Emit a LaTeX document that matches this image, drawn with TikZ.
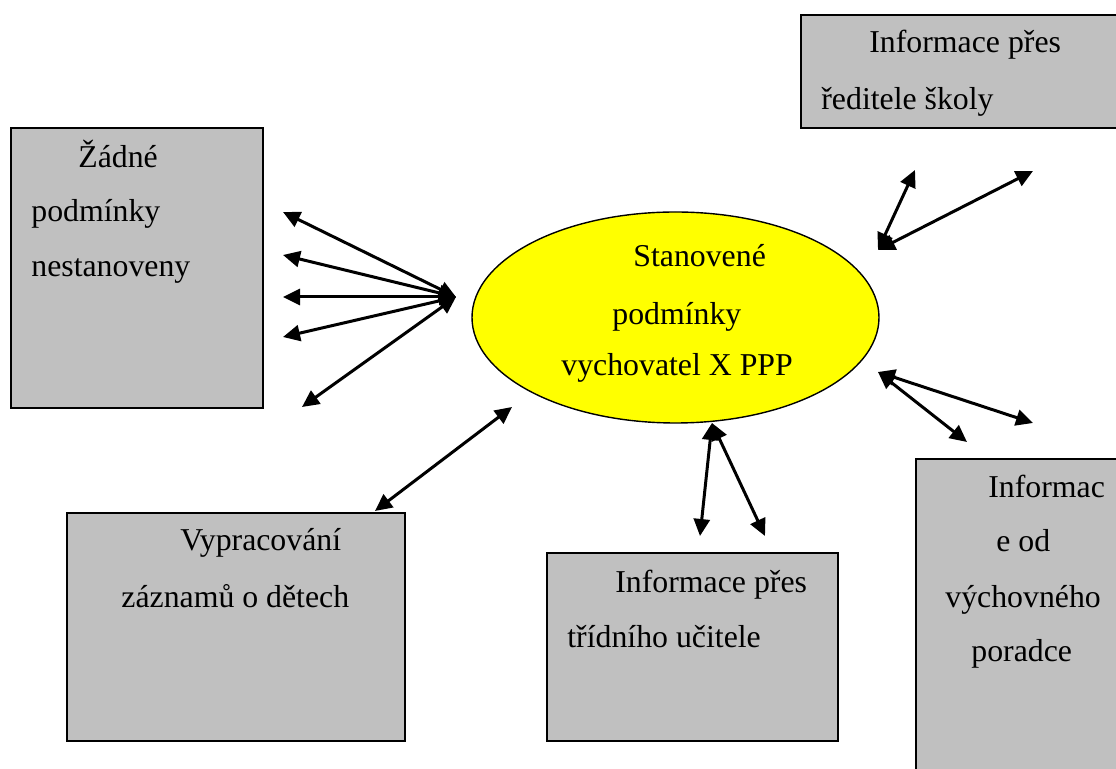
\documentclass[tikz,border=0pt]{standalone}
\usepackage{fontspec}
\setmainfont{Liberation Serif}
\usetikzlibrary{arrows.meta,shapes.geometric}

\begin{document}
\begin{tikzpicture}[x=0.5pt,y=-0.5pt,
  box/.style={draw=black,line width=1pt,fill={rgb,255:red,192;green,192;blue,192},
    rectangle,anchor=north west,inner sep=0pt},
  oval/.style={draw=black,line width=0.7pt,fill={rgb,255:red,255;green,255;blue,0},
    ellipse,inner sep=0pt,minimum width=203.5pt,minimum height=105.5pt},
  txt/.style={anchor=base west,inner sep=0pt,font=\fontsize{15.9}{19}\selectfont},
  >={Triangle[length=8.5pt,width=8pt]},
  link/.style={line width=1.5pt,<->}]

\useasboundingbox (0,0) rectangle (1116,769);
\clip (0,0) rectangle (1116,769);

% boxes (the two on the right run past the page edge)
\node[box,minimum width=126pt,minimum height=140pt] (none) at (10,127) {};
\node[box,minimum width=180pt,minimum height=56.5pt] (head) at (800,14) {};
\node[box,minimum width=169pt,minimum height=114pt] (notes) at (66,512) {};
\node[box,minimum width=145.5pt,minimum height=94pt] (teacher) at (546,552) {};
\node[box,minimum width=120pt,minimum height=180pt] (advisor) at (915,458) {};

% central ellipse
\node[oval] (core) at (675.5,317.5) {};

% texts
\node[txt] (none1) at (78,168) {Žádné};
\node[txt] (none2) at (31,222) {podmínky};
\node[txt] (none3) at (31,277) {nestanoveny};

\node[txt] (head1) at (869,53) {Informace přes};
\node[txt] (head2) at (821,110) {ředitele školy};

\node[txt] (core1) at (633,267) {Stanovené};
\node[txt] (core2) at (612,325) {podmínky};
\node[txt] (core3) at (561,376) {vychovatel X PPP};

\node[txt] (notes1) at (180,551) {Vypracování};
\node[txt] (notes2) at (121,608) {záznamů o dětech};

\node[txt] (teacher1) at (615,593) {Informace přes};
\node[txt] (teacher2) at (567,648) {třídního učitele};

\node[txt] (adv1) at (988,498) {Informac};
\node[txt] (adv2) at (996,552) {e od};
\node[txt] (adv3) at (945,608) {výchovného};
\node[txt] (adv4) at (971,662) {poradce};

% arrow end points
\coordinate (hubL) at (456,297);
\coordinate (l1) at (283,212);
\coordinate (l2) at (283,255);
\coordinate (l3) at (283,297);
\coordinate (l4) at (283,337);
\coordinate (l5) at (302,407);

\coordinate (bl1) at (512,407);
\coordinate (bl2) at (375,511);

\coordinate (hubTR) at (878,250);
\coordinate (tr1) at (915,170);
\coordinate (tr2) at (1033,171);

\coordinate (hubBR) at (878,372);
\coordinate (br1) at (967,442);
\coordinate (br2) at (1033,423);

\coordinate (hubB) at (712,423);
\coordinate (b1) at (700,536);
\coordinate (b2) at (765,536);

% connectors
\foreach \e in {l1,l2,l3,l4,l5} \draw[link] (\e) -- (hubL);
\draw[link] (bl2) -- (bl1);
\draw[link] (hubTR) -- (tr1);
\draw[link] (hubTR) -- (tr2);
\draw[link] (hubBR) -- (br1);
\draw[link] (hubBR) -- (br2);
\draw[link] (hubB) -- (b1);
\draw[link] (hubB) -- (b2);

\end{tikzpicture}
\end{document}
